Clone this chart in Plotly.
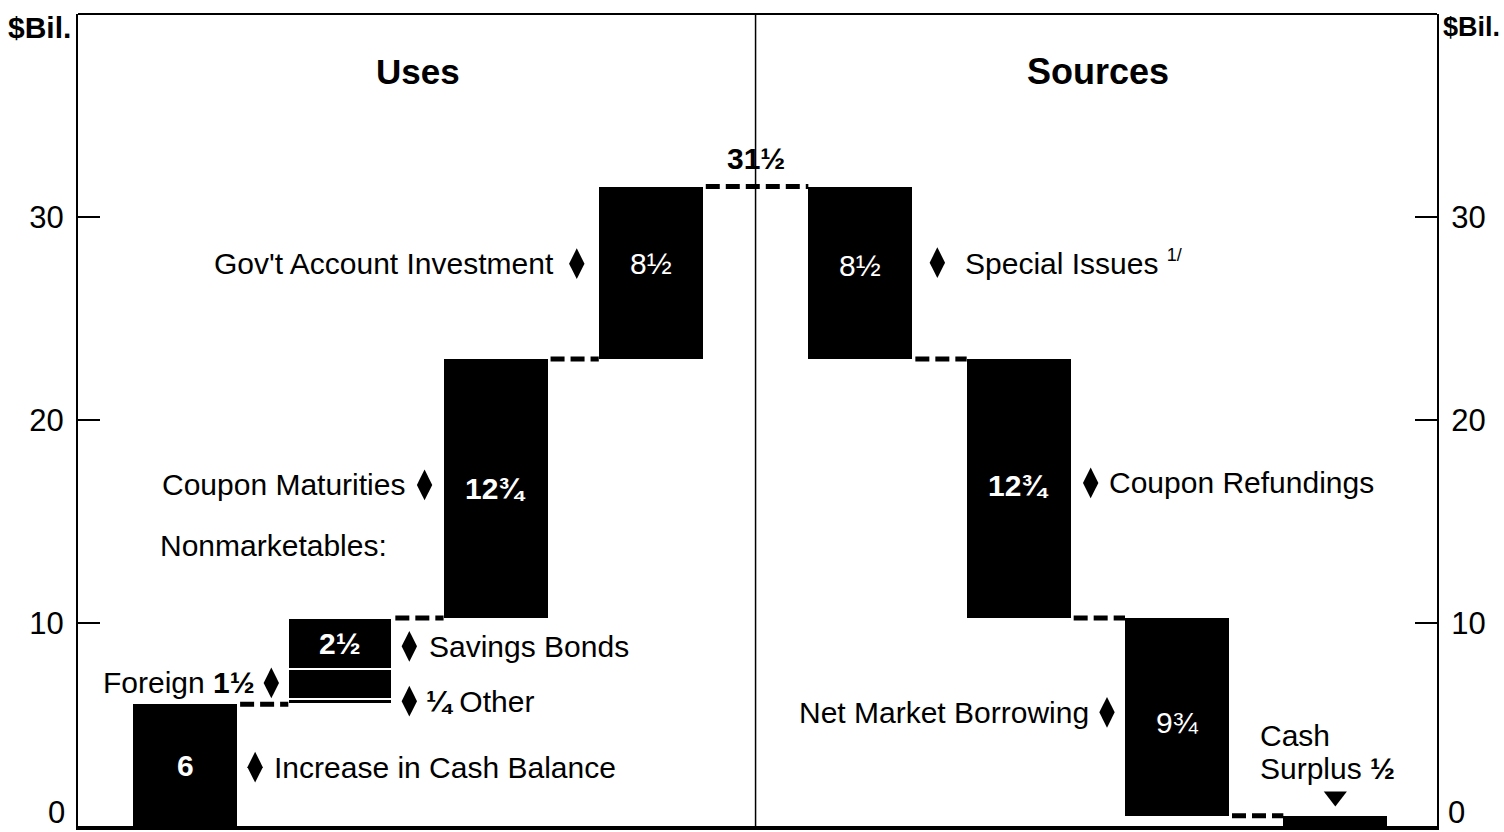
import plotly.graph_objects as go

# Treasury financing: uses and sources of funds, $ billions
uses_labels = ["Increase in Cash Balance", "Other", "Foreign", "Savings Bonds",
               "Coupon Maturities", "Gov't Account Investment"]
uses_values = [6, 0.25, 1.5, 2.5, 12.75, 8.5]
uses_column = [0, 1, 1, 1, 2, 3]          # Nonmarketables share one column

sources_labels = ["Special Issues", "Coupon Refundings", "Net Market Borrowing", "Cash Surplus"]
sources_values = [8.5, 12.75, 9.75, 0.5]
sources_column = [4, 5, 6, 7]

y_ticks = [0, 10, 20, 30]

# ---- layout constants -------------------------------------------------------
W, H = 1504, 832
M_L, M_R, M_T, M_B = 78, 67, 14, 6
col_x = [1, 2, 3, 4, 5.35, 6.37, 7.39, 8.41]
bar_w = 0.67
x_range = [0.31, 9.065]
y_range = [0, 40]
PX_PER_X = (W - M_L - M_R) / (x_range[1] - x_range[0])
FONT = "Liberation Sans, Arial, Helvetica, sans-serif"


def frac(v):
    whole = int(v)
    q = round((v - whole) * 4)
    glyph = {0: "", 1: "¼", 2: "½", 3: "¾"}[q]
    return (str(whole) if whole else "") + glyph


def dx(px):
    return px / PX_PER_X


# ---- stacked waterfall geometry ---------------------------------------------
total = sum(uses_values)
bars = []  # (x, base, value, name)
level = 0.0
for name, v, c in zip(uses_labels, uses_values, uses_column):
    bars.append((col_x[c], level, v, name))
    level += v
level = total
for name, v, c in zip(sources_labels, sources_values, sources_column):
    bars.append((col_x[c], level - v, v, name))
    level -= v

# top (uses) / bottom (sources) of each column for the connectors
col_top = {}
for (x, b, v, n), c in zip(bars, uses_column + sources_column):
    if c < 4:
        col_top[c] = max(col_top.get(c, 0), b + v)
    else:
        col_top[c] = b

fig = go.Figure()

nonmkt = {"Other", "Foreign", "Savings Bonds"}
fig.add_trace(go.Bar(
    x=[b[0] for b in bars],
    y=[b[2] for b in bars],
    base=[b[1] for b in bars],
    width=bar_w,
    marker=dict(color="black",
                line=dict(color="white",
                          width=[2 if b[3] in nonmkt else 0 for b in bars])),
    hoverinfo="skip",
    showlegend=False,
))

# dashed connectors between successive columns
for c in range(7):
    lvl = col_top[c]
    fig.add_trace(go.Scatter(
        x=[col_x[c] + bar_w / 2 + dx(3), col_x[c + 1] - bar_w / 2],
        y=[lvl, lvl],
        mode="lines",
        line=dict(color="black", width=5, dash="14px,6px"),
        hoverinfo="skip", showlegend=False,
    ))

# invisible trace that carries the right-hand axis
fig.add_trace(go.Scatter(x=[col_x[0]], y=[0], yaxis="y2", mode="markers",
                         marker=dict(opacity=0), hoverinfo="skip", showlegend=False))

ann = []


def text(x, y, s, size=30, anchor="center", xshift=0, yshift=0, color="black", bold=False):
    ann.append(dict(x=x, y=y, xref="x", yref="y", text=f"<b>{s}</b>" if bold else s,
                    showarrow=False, xanchor=anchor, yanchor="middle",
                    xshift=xshift, yshift=yshift,
                    font=dict(family=FONT, size=size, color=color)))


bar_of = {b[3]: b for b in bars}

# values inside the bars
in_bar = {"Increase in Cash Balance": (0, True), "Savings Bonds": (0, True),
          "Coupon Maturities": (0, True), "Gov't Account Investment": (0.45, False),
          "Special Issues": (0.35, False), "Coupon Refundings": (0.15, True),
          "Net Market Borrowing": (-0.3, False)}
for name, (off, bold) in in_bar.items():
    x, b, v, _ = bar_of[name]
    text(x, b + v / 2 + off, frac(v), color="white", bold=bold)

# side labels with pointers
arrows_r = []   # pointing right (label sits left of a bar)
arrows_l = []   # pointing left (label sits right of a bar)


def left_label(name, y, s, a_off=20, t_off=37):
    x = bar_of[name][0] - bar_w / 2
    arrows_r.append((x - dx(a_off), y))
    text(x, y, s, anchor="right", xshift=-t_off)


def right_label(name, y, s, a_off=18, t_off=35):
    x = bar_of[name][0] + bar_w / 2
    arrows_l.append((x + dx(a_off), y))
    text(x, y, s, anchor="left", xshift=t_off)


left_label("Gov't Account Investment", 27.7, "Gov't Account Investment", 22, 43)
left_label("Coupon Maturities", 16.8, "Coupon Maturities", 19, 37)
left_label("Foreign", 7.05, "Foreign <b>" + frac(uses_values[2]) + "</b>", 17, 31)
left_label("Net Market Borrowing", 5.6, "Net Market Borrowing", 18, 34)

right_label("Savings Bonds", 8.85, "Savings Bonds", 17, 35)
right_label("Other", 6.15, "<b>" + frac(uses_values[1]) + "</b> Other", 17, 32)
right_label("Increase in Cash Balance", 2.9, "Increase in Cash Balance", 18, 35)
right_label("Special Issues", 27.75,
            "Special Issues <sup><span style='font-size:18px'>1/</span></sup>", 25, 51)
right_label("Coupon Refundings", 16.9, "Coupon Refundings", 20, 36)

text(col_x[1] - bar_w / 2, 13.8, "Nonmarketables:", anchor="left", xshift=-130)

cs = bar_of["Cash Surplus"]
text(cs[0] - bar_w / 2, 4.45, "Cash", anchor="left", xshift=-25)
text(cs[0] - bar_w / 2, 2.85, "Surplus <b>" + frac(cs[2]) + "</b>", anchor="left", xshift=-25)

fig.add_trace(go.Scatter(x=[p[0] for p in arrows_r], y=[p[1] for p in arrows_r], mode="markers",
                         marker=dict(symbol="diamond-tall", size=22, color="black"),
                         hoverinfo="skip", showlegend=False))
fig.add_trace(go.Scatter(x=[p[0] for p in arrows_l], y=[p[1] for p in arrows_l], mode="markers",
                         marker=dict(symbol="diamond-tall", size=22, color="black"),
                         hoverinfo="skip", showlegend=False))
fig.add_trace(go.Scatter(x=[cs[0]], y=[1.45], mode="markers",
                         marker=dict(symbol="triangle-down", size=20, color="black"),
                         hoverinfo="skip", showlegend=False))

# panel headings and grand total
mid_x = (col_x[3] + col_x[4]) / 2
text((col_x[0] + col_x[3]) / 2, 37.15, "Uses", size=35, bold=True)
text((col_x[4] + col_x[7]) / 2, 37.15, "Sources", size=36, bold=True)
text(mid_x, total, frac(total), size=30, bold=True, yshift=28)

# unit captions
ann.append(dict(x=0, y=1, xref="paper", yref="paper", text="<b>$Bil.</b>", showarrow=False,
                xanchor="right", yanchor="middle", xshift=-5, yshift=-13,
                font=dict(family=FONT, size=30, color="black")))
ann.append(dict(x=1, y=1, xref="paper", yref="paper", text="<b>$Bil.</b>", showarrow=False,
                xanchor="left", yanchor="middle", xshift=4, yshift=-13,
                font=dict(family=FONT, size=27, color="black")))

# zero labels sit a little above the heavy baseline
for xp, anchor, shift in ((0, "right", -11), (1, "left", 9)):
    ann.append(dict(x=xp, y=y_ticks[0], xref="paper", yref="y", text=str(y_ticks[0]),
                    showarrow=False, xanchor=anchor, yanchor="bottom", xshift=shift,
                    yshift=-6, font=dict(family=FONT, size=31, color="black")))

axis_y = dict(range=y_range, tickvals=y_ticks[1:], ticktext=[str(t) for t in y_ticks[1:]],
              ticks="inside", ticklen=22, tickwidth=1.5, tickcolor="black",
              showline=True, linewidth=2, linecolor="black", showgrid=False,
              zeroline=False, tickfont=dict(family=FONT, size=31, color="black"),
              ticklabelstandoff=6, fixedrange=True)

fig.update_layout(
    width=W, height=H,
    margin=dict(l=M_L, r=M_R, t=M_T, b=M_B),
    paper_bgcolor="white", plot_bgcolor="white",
    xaxis=dict(range=x_range, showticklabels=False, ticks="", showgrid=False,
               zeroline=False, showline=True, linewidth=4, linecolor="black",
               fixedrange=True),
    yaxis=axis_y,
    yaxis2=dict(axis_y, overlaying="y", side="right"),
    annotations=ann,
    shapes=[
        dict(type="line", xref="paper", yref="paper", x0=0, x1=1, y0=1, y1=1,
             line=dict(color="black", width=2)),
        dict(type="line", xref="x", yref="paper", x0=mid_x, x1=mid_x, y0=0, y1=1,
             line=dict(color="black", width=1.5), layer="below"),
    ],
    bargap=0,
)

fig.write_html("out.html")
